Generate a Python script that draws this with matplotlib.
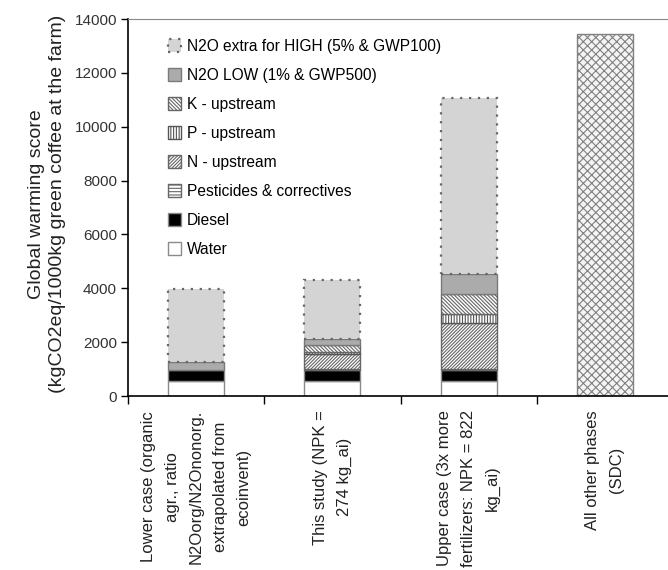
import numpy as np
import matplotlib
matplotlib.use("Agg")
from matplotlib import pyplot as plt

plt.rcParams["font.family"] = ["Liberation Sans", "DejaVu Sans"]
plt.rcParams["hatch.linewidth"] = 0.8

# scenarios on the x axis
categories = [
    "Lower case (organic\nagr., ratio\nN2Oorg/N2Ononorg.\nextrapolated from\necoinvent)",
    "This study (NPK =\n274 kg_ai)",
    "Upper case (3x more\nfertilizers: NPK = 822\nkg_ai)",
    "All other phases\n(SDC)",
]

# contributions, kgCO2eq per 1000 kg green coffee (stacked bottom -> top)
water = [557, 557, 557, 0]
diesel = [408, 408, 408, 0]
pesticides = [0, 30, 30, 0]
n_upstream = [0, 555, 1725, 0]
p_upstream = [0, 100, 310, 0]
k_upstream = [0, 240, 740, 0]
n2o_low = [295, 210, 760, 0]
n2o_extra_high = [2710, 2200, 6520, 0]
other_phases = [0, 0, 0, 13430]

y_ticks = [0, 2000, 4000, 6000, 8000, 10000, 12000, 14000]

series = [
    ("Water", water, dict(facecolor="white", edgecolor="#8a8a8a")),
    ("Diesel", diesel, dict(facecolor="black", edgecolor="#8a8a8a")),
    ("Pesticides & correctives", pesticides,
     dict(facecolor="white", edgecolor="#666666", hatch="-----")),
    ("N - upstream", n_upstream,
     dict(facecolor="white", edgecolor="#666666", hatch="/" * 10)),
    ("P - upstream", p_upstream,
     dict(facecolor="white", edgecolor="#555555", hatch="|" * 6)),
    ("K - upstream", k_upstream,
     dict(facecolor="white", edgecolor="#666666", hatch="\\" * 9)),
    ("N2O LOW (1% & GWP500)", n2o_low,
     dict(facecolor="#ababab", edgecolor="#7a7a7a")),
    ("N2O extra for HIGH (5% & GWP100)", n2o_extra_high,
     dict(facecolor="#d4d4d4", edgecolor="#666666", linestyle=(0, (1, 3)), linewidth=1.6)),
    ("_nolegend_", other_phases,
     dict(facecolor="#f4f4f4", edgecolor="#808080", hatch="xxxx")),
]

fig = plt.figure(figsize=(6.68, 5.7), dpi=100)
ax = fig.add_axes([128 / 668, 1 - 396 / 570, 545 / 668, 377 / 570])

x = np.arange(len(categories)) + 0.5
bottom = np.zeros(len(categories))
handles = []
for label, values, style in series:
    values = np.asarray(values, dtype=float)
    keep = values > 0
    style.setdefault("linewidth", 1.0)
    bars = ax.bar(x[keep], values[keep], bottom=bottom[keep], width=0.41,
                  label=label, **style)
    if not label.startswith("_"):
        handles.append(bars)
    bottom += values

ax.set_xlim(0, 4)
ax.set_ylim(0, 14000)
ax.set_yticks(y_ticks)
ax.set_yticklabels([str(v) for v in y_ticks], fontsize=11, color="#333333")
ax.tick_params(axis="y", direction="out", length=5, width=1, pad=3)

ax.set_xticks([0, 1, 2, 3, 4])
ax.set_xticklabels([])
ax.tick_params(axis="x", which="major", direction="out", length=6, width=1)
ax.set_xticks(x, minor=True)
ax.set_xticklabels(categories, minor=True, rotation=90, fontsize=12,
                   color="#222222", linespacing=1.75, ha="center", va="top",
                   multialignment="center")
ax.tick_params(axis="x", which="minor", length=0, pad=10)

ax.spines["right"].set_visible(False)
ax.spines["top"].set_color("#8a8a8a")
ax.spines["left"].set_linewidth(1.2)
ax.spines["bottom"].set_linewidth(1.2)

fig.text(0.070, 1 - 204 / 570,
         "Global warming score\n(kgCO2eq/1000kg green coffee at the farm)",
         rotation=90, ha="center", va="center", fontsize=14, color="#222222",
         linespacing=1.3)

ax.legend(handles=handles[::-1], loc="upper left",
          bbox_to_anchor=(168 / 668, 1 - 39 / 570), bbox_transform=fig.transFigure,
          frameon=False, fontsize=11.2, handlelength=0.85, handleheight=0.85,
          handletextpad=0.35, labelspacing=0.9, borderpad=0, borderaxespad=0)

fig.savefig("out.png", dpi=100)
